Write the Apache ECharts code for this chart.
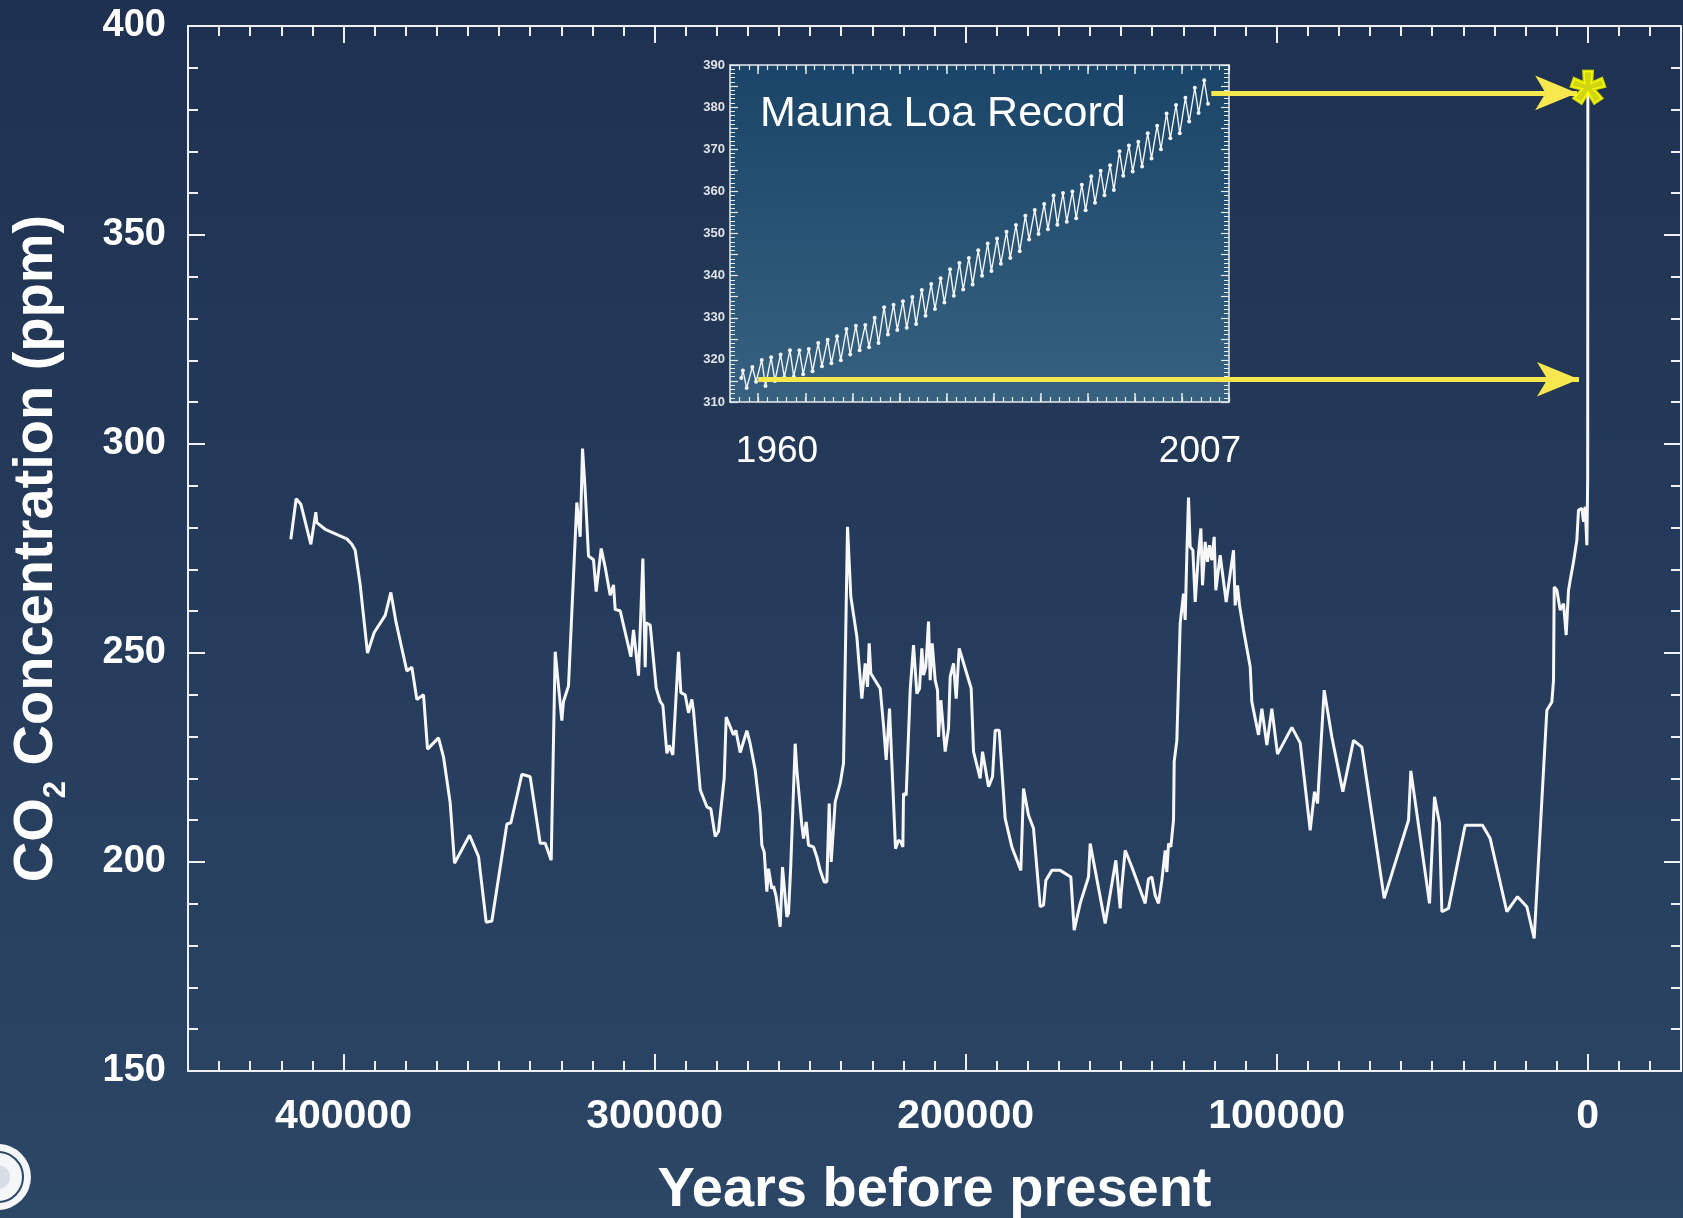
<!DOCTYPE html>
<html><head><meta charset="utf-8">
<script src="https://cdn.jsdelivr.net/npm/echarts@6/dist/echarts.min.js"></script>
<style>html,body{margin:0;padding:0;background:#25395a}#c{width:1683px;height:1218px}</style>
</head><body><div id="c"></div>
<script>
// ---- Vostok ice core record (years before present, CO2 ppm) ----
const vostokAge = [416940,415220,413720,410500,408900,408580,405900,398930,397330,396250,394640,392290,390140,386600,384780,383070,379640,378030,376420,374280,372990,369450,367850,365700,364310,359480,356590,354130,352300,347480,346190,342660,339990,336770,335160,333230,331950,329810,329280,327670,324990,323910,323160,322300,321240,319630,318770,317160,315870,314270,313200,312660,311050,307620,306770,305160,303760,303010,302690,301410,299480,298190,297330,296040,295300,294120,292300,291550,290150,289080,288010,287470,285330,283190,281900,280510,279440,277610,276970,274610,273860,272470,270330,
269256,267649,266041,265505,264755,263898,263362,262826,262290,261753,260897,259611,258861,257468,256932,256182,255646,254789,254253,252646,252110,251252,250503,248896,247822,246751,245465,244607,243858,243215,241929,240321,239250,237964,236891,234963,234105,233355,232284,231533,230998,230462,227461,226389,225532,224460,222532,221567,220817,220174,219960,219102,217816,216744,215672,214815,214065,213529,212779,211922,211386,210743,209779,209029,208707,207957,206564,205492,204956,203885,203027,202063,198205,197454,195311,194561,192632,191346,190489,189203,187274,185130,182237,181380,179773,178165,176021,174950,174199,172270,169591,166161,165090,163161,160482,159946,155124,151694,150301,150086,148694,146550,142264,141193,140120,139049,137977,136906,135834,135297,134763,134011,133156,132940,132082,131011,129940,129404,128867,128332,127796,126938,126189,125118,124366,123832,122974,122225,121580,120830,120080,119544,118151,116222,114936,113866,113329,112580,111935,110650,108506,
107970,105828,104755,103148,101540,99720,95110,92431,89216,87824,86859,84715,82250,78713,75286,72604,65425,57602,56851,50852,49244,47636,46885,44742,39384,33812,31346,25988,22559,19558,17200,13128,11520,10985,10770,9913,8841,7770,6912,6162,5626,4555,3483,2948,1875,1340,800,270,100,0,-57];
const vostokCO2 = [277.2,286.9,285.6,276.0,283.7,281.2,279.6,277.3,276.0,274.6,266.3,250.0,254.9,259.0,264.5,257.2,245.7,246.6,238.9,240.0,227.0,229.7,225.1,214.1,199.7,206.4,201.3,185.6,185.9,209.1,209.4,221.0,220.4,204.5,204.5,200.4,250.3,233.8,238.4,242.1,286.0,277.8,298.9,288.8,273.2,272.3,264.7,275.0,270.5,263.8,266.3,260.4,260.1,249.1,255.5,244.6,272.6,246.6,257.2,256.7,241.6,238.4,237.5,226.0,227.9,225.6,250.3,240.5,240.0,235.7,238.9,236.1,217.3,213.2,212.7,206.1,207.3,220.1,234.7,230.4,231.5,226.2,231.4,
228.3,222.0,211.6,204.0,202.4,192.9,198.4,198.0,193.6,194.2,191.7,184.5,198.8,186.9,187.7,199.6,199.6,228.3,222.0,208.8,205.6,209.6,204.0,203.6,201.2,198.0,195.2,195.2,214.0,200.0,214.4,218.8,223.6,280.2,263.4,253.9,245.9,239.1,247.5,241.9,252.3,245.1,241.5,232.7,224.4,236.7,203.2,205.2,204.8,203.6,216.4,216.0,241.1,251.9,240.3,241.5,251.1,244.7,246.7,257.5,243.5,252.3,243.5,241.1,229.9,238.7,226.4,232.0,244.3,247.5,239.1,251.1,241.5,226.4,220.0,226.4,218.0,220.4,231.5,231.5,210.4,203.6,198.0,217.6,211.2,208.0,189.3,189.7,195.6,198.0,198.0,196.4,183.7,190.1,196.4,204.4,185.3,200.4,188.9,191.7,202.8,198.8,190.1,196.0,196.4,192.0,190.1,195.6,202.8,197.6,204.4,203.6,210.0,224.0,229.1,257.1,264.2,257.9,273.8,287.2,275.4,274.6,262.2,273.8,279.8,266.2,276.6,271.8,275.8,272.2,277.8,265.0,273.4,262.2,269.0,274.6,261.4,266.2,261.4,255.5,246.7,
238.3,230.4,236.7,228.0,236.7,225.8,232.2,228.5,207.6,216.8,214.0,241.1,229.9,216.8,229.1,227.5,191.3,210.0,221.8,190.1,215.6,209.2,188.1,188.9,208.8,208.8,205.6,188.1,191.7,189.3,181.7,236.3,238.3,243.5,265.8,265.0,260.3,261.8,254.3,265.0,267.4,271.8,277.0,284.2,284.6,281.4,285.0,275.8,285.0,292.0,384.0];

// ---- Mauna Loa record (inset): spring peak and autumn low for each year ----
const mlYears = [1958,1959,1960,1961,1962,1963,1964,1965,1966,1967,1968,1969,1970,1971,1972,1973,1974,1975,1976,1977,1978,1979,1980,1981,1982,1983,1984,1985,1986,1987,1988,1989,1990,1991,1992,1993,1994,1995,1996,1997,1998,1999,2000,2001,2002,2003,2004,2005,2006,2007];
const mlPeak = [317.5,318.3,320.0,320.6,321.3,322.3,322.3,322.6,324.0,324.8,325.6,327.3,328.1,328.3,330.0,332.5,333.1,333.9,334.9,336.6,338.0,339.4,341.5,343.0,344.2,346.0,347.6,348.8,350.4,352.0,354.2,355.6,357.0,359.0,359.6,360.0,361.6,363.6,364.9,366.2,369.5,370.9,371.8,373.8,375.6,378.5,380.5,382.2,384.6,386.4];
const mlLow = [313.3,314.8,313.8,315.0,315.9,316.0,316.6,317.3,318.5,319.2,319.9,321.3,322.3,323.0,324.0,326.0,327.1,327.6,328.5,330.5,332.1,333.6,335.2,336.7,337.9,340.0,341.1,342.8,344.2,345.8,348.6,349.9,351.0,352.1,352.8,353.6,355.5,357.3,359.1,360.3,363.7,364.7,365.9,367.8,370.0,372.6,373.8,376.6,378.6,380.8];
const mlStart = [1958.2, 315.7];

// ---- axes / ticks ----
const xMajorTicks = [0, 100000, 200000, 300000, 400000];
const insetMajorYears = [1960, 1965, 1970, 1975, 1980, 1985, 1990, 1995, 2000, 2005, 2010];
const insetYearLabels = ['1960', '2007'];

// ---- annotations (in main chart units: years BP, ppm) ----
const arrowLevels = [384, 315.5];
const arrowStartAges = [121000, 266700];
const arrowEndAges = [3400, 2800];
const starPoint = [-57, 384];

const FF = '"Liberation Sans", Arial, Helvetica, sans-serif';
const W = '#ffffff';
const LC = '#eef0f3';
const YEL = '#f6e84e';

function steps(a, b, s) { const r = []; for (let v = a; v <= b + 1e-9; v += s) r.push(Math.round(v * 100) / 100); return r; }
const xMinorTicks = steps(-30000, 450000, 10000);
const insetMinorYears = steps(1957, 2010, 1);

const vostokData = vostokAge.map((a, i) => [a, vostokCO2[i]]);
const mlData = [mlStart];
mlYears.forEach((y, i) => { mlData.push([y + 0.37, mlPeak[i]]); mlData.push([y + 0.77, mlLow[i]]); });

const tickLine = { color: LC, width: 2 };
function mainX(extra) {
  return Object.assign({
    gridIndex: 0, type: 'value', inverse: true, min: -30000, max: 450000,
    splitLine: { show: false },
    axisLine: { show: true, onZero: false, lineStyle: { color: LC, width: 2 } },
    axisLabel: { show: false }
  }, extra);
}
function insetX(extra) {
  return Object.assign({
    gridIndex: 1, type: 'value', min: 1957, max: 2010,
    splitLine: { show: false },
    axisLine: { show: true, onZero: false, lineStyle: { color: '#e8ecf0', width: 1.5 } },
    axisLabel: { show: false }
  }, extra);
}

const chart = echarts.init(document.getElementById('c'), null, { renderer: 'canvas' });
chart.setOption({
  animation: false,
  backgroundColor: { type: 'linear', x: 0, y: 0, x2: 0, y2: 1, colorStops: [{ offset: 0, color: '#1f3150' }, { offset: 1, color: '#2c4666' }] },
  textStyle: { fontFamily: FF },
  grid: [
    { left: 188, top: 26, width: 1493, height: 1045, show: false, containLabel: false, outerBoundsMode: 'none' },
    { left: 730, top: 65, width: 499, height: 337, show: true, borderWidth: 0, containLabel: false, outerBoundsMode: 'none',
      backgroundColor: { type: 'linear', x: 0, y: 0, x2: 0, y2: 1, colorStops: [{ offset: 0, color: '#1a4568' }, { offset: 1, color: '#37617f' }] } }
  ],
  xAxis: [
    mainX({ position: 'bottom',
      axisTick: { show: true, inside: true, length: 17, customValues: xMajorTicks, lineStyle: tickLine },
      axisLabel: { show: true, customValues: xMajorTicks, margin: 25, color: W, fontSize: 41, fontWeight: 'bold', fontFamily: FF, formatter: v => String(v) },
      name: 'Years before present', nameLocation: 'middle', nameGap: 90,
      nameTextStyle: { color: W, fontSize: 56, fontWeight: 'bold', fontFamily: FF, lineHeight: 60 } }),
    mainX({ position: 'top', axisTick: { show: true, inside: true, length: 17, customValues: xMajorTicks, lineStyle: tickLine } }),
    mainX({ position: 'bottom', axisLine: { show: false }, axisTick: { show: true, inside: true, length: 10, customValues: xMinorTicks, lineStyle: tickLine } }),
    mainX({ position: 'top', axisLine: { show: false }, axisTick: { show: true, inside: true, length: 10, customValues: xMinorTicks, lineStyle: tickLine } }),
    insetX({ position: 'bottom', axisTick: { show: true, inside: true, length: 9, customValues: insetMajorYears, lineStyle: { color: '#e8ecf0', width: 1.5 } } }),
    insetX({ position: 'top', axisTick: { show: true, inside: true, length: 9, customValues: insetMajorYears, lineStyle: { color: '#e8ecf0', width: 1.5 } } }),
    insetX({ position: 'bottom', axisLine: { show: false }, axisTick: { show: true, inside: true, length: 5, customValues: insetMinorYears, lineStyle: { color: '#e8ecf0', width: 1.2 } } }),
    insetX({ position: 'top', axisLine: { show: false }, axisTick: { show: true, inside: true, length: 5, customValues: insetMinorYears, lineStyle: { color: '#e8ecf0', width: 1.2 } } })
  ],
  yAxis: [
    { gridIndex: 0, type: 'value', position: 'left', min: 150, max: 400, interval: 50,
      splitLine: { show: false },
      axisLine: { show: true, onZero: false, lineStyle: { color: LC, width: 2 } },
      axisTick: { show: true, inside: true, length: 17, lineStyle: tickLine },
      minorTick: { show: true, splitNumber: 5, length: 10, lineStyle: tickLine },
      axisLabel: { color: W, fontSize: 38, fontWeight: 'bold', margin: 22, fontFamily: FF },
      name: '{b|CO}{s|2}{b| Concentration (ppm)}', nameLocation: 'middle', nameRotate: 90, nameGap: 116,
      nameTextStyle: { rich: {
        b: { color: W, fontSize: 56, fontWeight: 'bold', fontFamily: FF, lineHeight: 70 },
        s: { color: W, fontSize: 31, fontWeight: 'bold', fontFamily: FF, verticalAlign: 'bottom' } } } },
    { gridIndex: 0, type: 'value', position: 'right', min: 150, max: 400, interval: 50,
      splitLine: { show: false },
      axisLine: { show: true, onZero: false, lineStyle: { color: LC, width: 2 } },
      axisTick: { show: true, inside: true, length: 17, lineStyle: tickLine },
      minorTick: { show: true, splitNumber: 5, length: 10, lineStyle: tickLine },
      axisLabel: { show: false } },
    { gridIndex: 1, type: 'value', position: 'left', min: 310, max: 390, interval: 5,
      splitLine: { show: false },
      axisLine: { show: true, onZero: false, lineStyle: { color: '#e8ecf0', width: 1.5 } },
      axisTick: { show: true, inside: true, length: 8, lineStyle: { color: '#e8ecf0', width: 1.2 } },
      minorTick: { show: true, splitNumber: 5, length: 5, lineStyle: { color: '#e8ecf0', width: 1 } },
      axisLabel: { color: '#dfe3e8', fontSize: 13, fontWeight: 'bold', margin: 5, formatter: v => (v % 10 === 0 ? String(v) : '') } },
    { gridIndex: 1, type: 'value', position: 'right', min: 310, max: 390, interval: 5,
      splitLine: { show: false },
      axisLine: { show: true, onZero: false, lineStyle: { color: '#e8ecf0', width: 1.5 } },
      axisTick: { show: true, inside: true, length: 8, lineStyle: { color: '#e8ecf0', width: 1.2 } },
      minorTick: { show: true, splitNumber: 5, length: 5, lineStyle: { color: '#e8ecf0', width: 1 } },
      axisLabel: { show: false } }
  ],
  series: [
    { name: 'Vostok', type: 'line', xAxisIndex: 0, yAxisIndex: 0, data: vostokData,
      showSymbol: false, symbol: 'none', lineStyle: { color: '#f7f7f7', width: 3 }, z: 3,
      markLine: { silent: true, animation: false, symbol: ['none', 'arrow'],
        lineStyle: { color: YEL, width: 5, type: 'solid' }, label: { show: false },
        data: arrowLevels.map((lv, i) => [
          { coord: [arrowStartAges[i], lv], symbol: 'none' },
          { coord: [arrowEndAges[i], lv], symbol: 'arrow', symbolSize: [26, 42], itemStyle: { color: YEL } }
        ]) } },
    { name: 'Mauna Loa', type: 'line', xAxisIndex: 4, yAxisIndex: 2, data: mlData,
      symbol: 'circle', symbolSize: 4, showSymbol: true,
      lineStyle: { color: '#f2f4f6', width: 1.4 }, itemStyle: { color: '#f2f4f6' }, z: 2 },
    { name: 'Today', type: 'scatter', xAxisIndex: 0, yAxisIndex: 0, data: [starPoint],
      symbol: 'circle', symbolSize: 0.1, z: 6, itemStyle: { color: '#ffff00' },
      label: { show: true, position: 'inside', formatter: '*', color: '#ffff00', textBorderWidth: 2.5, textBorderColor: '#ffff00',
        fontSize: 88, fontWeight: 'bold', fontFamily: FF, offset: [0, 14] } }
  ],
  graphic: [
    { type: 'text', left: 760, top: 93, z: 10, style: { text: 'Mauna Loa Record', fill: W, font: '43px "Liberation Sans", Arial, sans-serif' } },
    { type: 'text', x: 777, y: 452, z: 10, style: { text: insetYearLabels[0], fill: W, font: '37px "Liberation Sans", Arial, sans-serif', align: 'center', verticalAlign: 'middle' } },
    { type: 'text', x: 1200, y: 452, z: 10, style: { text: insetYearLabels[1], fill: W, font: '37px "Liberation Sans", Arial, sans-serif', align: 'center', verticalAlign: 'middle' } },
    { type: 'group', z: 10, children: [
      { type: 'circle', shape: { cx: -2, cy: 1177, r: 33 }, style: { fill: '#f4f6f8' } },
      { type: 'circle', shape: { cx: -2, cy: 1177, r: 25 }, style: { fill: 'none', stroke: '#2c4666', lineWidth: 2 } },
      { type: 'circle', shape: { cx: -2, cy: 1177, r: 12 }, style: { fill: '#d6dde6' } }
    ] }
  ]
});
</script>
</body></html>
